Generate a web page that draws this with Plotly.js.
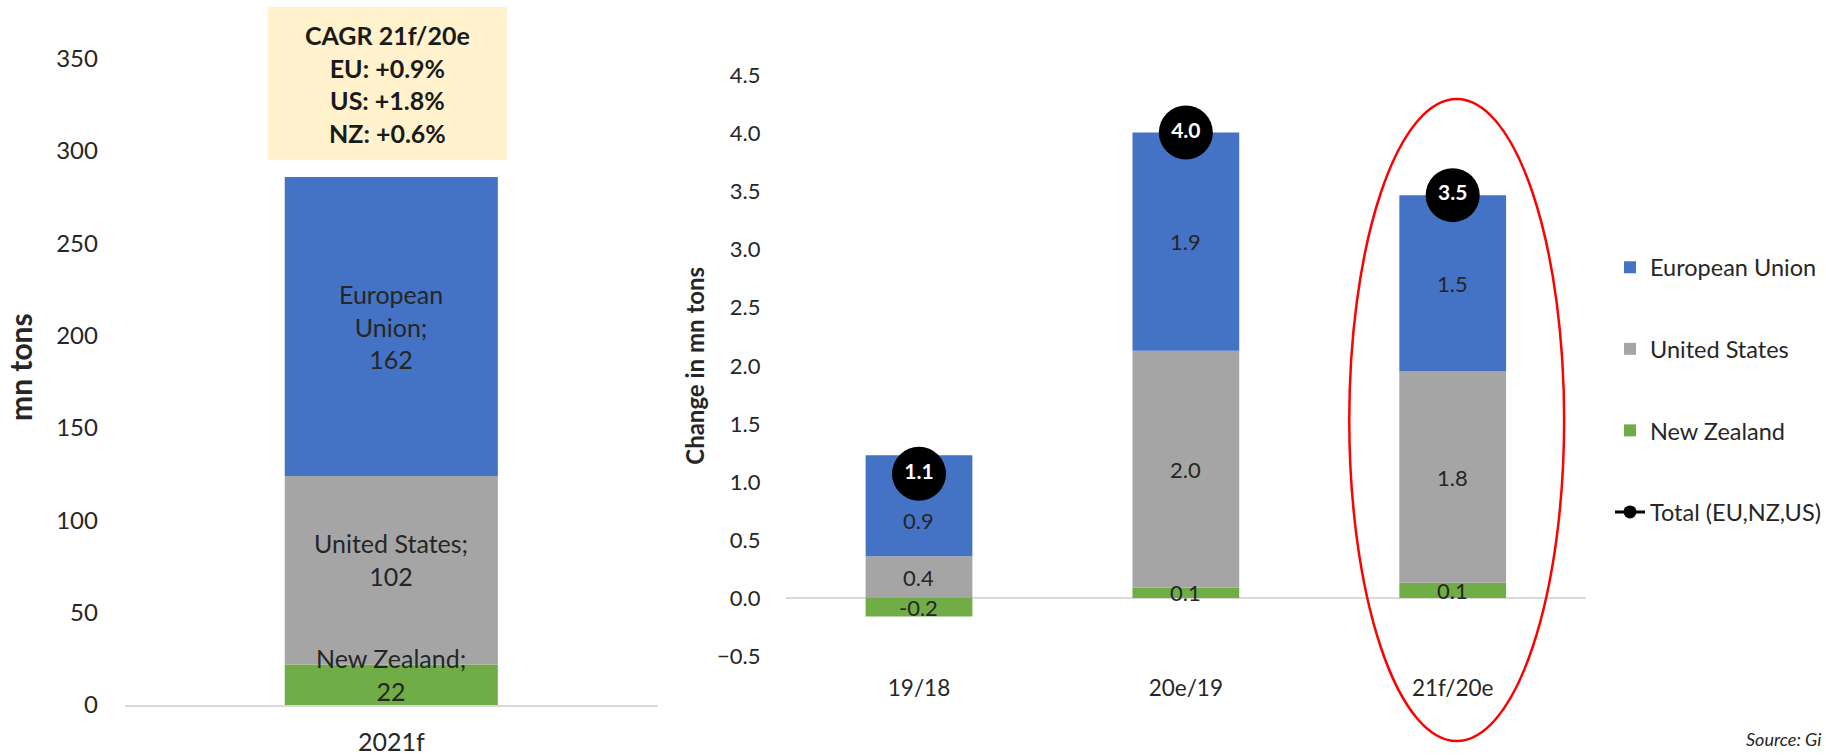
<!DOCTYPE html>
<html>
<head>
<meta charset="utf-8">
<script src="https://cdn.plot.ly/plotly-3.0.1.min.js"></script>
<style>html,body{margin:0;padding:0;background:#fff;}#chart{width:1826px;height:755px;}</style>
</head>
<body>
<div id="chart"></div>
<script>
// ---- Data ----
var levelCategory = ['2021f'];
var levelEU = [162];
var levelUS = [102];
var levelNZ = [22];

var periods = ['19/18', '20e/19', '21f/20e'];
var changeEU = [0.87, 1.88, 1.52];
var changeUS = [0.36, 2.04, 1.82];
var changeNZ = [-0.16, 0.09, 0.13];
var changeTotal = [1.07, 4.01, 3.47];

var cagrRegions = ['EU', 'US', 'NZ'];
var cagrValues = [0.9, 1.8, 0.6];

var seriesNames = ['European Union', 'United States', 'New Zealand'];
var levelLabelNames = ['European<br>Union', 'United States', 'New Zealand'];
var totalName = 'Total (EU,NZ,US)';

// ---- Styles ----
var FONT = 'Lato, "Open Sans", sans-serif';
var C_EU = '#4472C4', C_US = '#A5A5A5', C_NZ = '#70AD47';
var TXT = '#262626';
var W = 1826, H = 755;
function px(x) { return x / W; }
function py(y) { return 1 - y / H; }
// label pixel nudges (style only)
var levelLabelShift = [0, 11, 10];          // EU, US, NZ
var changeLabelShift = [[-15, 0, 0], [0, 0, 0], [0, 0, 0]]; // EU, US, NZ per period

function bar(name, xs, vals, color, xa, ya, showleg, rank) {
  return {
    type: 'bar', x: xs, y: vals, name: name, xaxis: xa, yaxis: ya,
    marker: {color: color}, showlegend: showleg, legendgroup: name, legendrank: rank,
    hoverinfo: 'y+name'
  };
}

var traces = [
  bar(seriesNames[2], levelCategory, levelNZ, C_NZ, 'x', 'y', false, 3),
  bar(seriesNames[1], levelCategory, levelUS, C_US, 'x', 'y', false, 2),
  bar(seriesNames[0], levelCategory, levelEU, C_EU, 'x', 'y', false, 1),
  bar(seriesNames[2], periods, changeNZ, C_NZ, 'x2', 'y2', true, 3),
  bar(seriesNames[1], periods, changeUS, C_US, 'x2', 'y2', true, 2),
  bar(seriesNames[0], periods, changeEU, C_EU, 'x2', 'y2', true, 1),
  {
    type: 'scatter', mode: 'markers+text', x: periods, y: changeTotal, name: totalName,
    xaxis: 'x2', yaxis: 'y2', showlegend: false, legendgroup: 'total',
    marker: {size: 54, color: '#000000'},
    text: changeTotal.map(function (v) { return v.toFixed(1); }),
    textposition: 'middle center',
    textfont: {family: FONT, size: 21, color: '#ffffff', weight: 'bold'}
  },
  {
    type: 'scatter', mode: 'lines+markers', x: [null], y: [null], name: totalName,
    xaxis: 'x2', yaxis: 'y2', showlegend: true, legendgroup: 'total', legendrank: 4,
    marker: {size: 13, color: '#000000'}, line: {color: '#000000', width: 3}
  }
];

// ---- Segment labels (relative stacking midpoints, from data) ----
var annotations = [];
function stackMids(seriesList) { // seriesList in stacking order
  var n = seriesList[0].length, mids = seriesList.map(function () { return []; });
  for (var i = 0; i < n; i++) {
    var pos = 0, neg = 0;
    seriesList.forEach(function (s, k) {
      var v = s[i];
      if (v >= 0) { mids[k][i] = pos + v / 2; pos += v; }
      else { mids[k][i] = neg + v / 2; neg += v; }
    });
  }
  return mids;
}
// stacking order NZ, US, EU
var levelSeries = [levelNZ, levelUS, levelEU];
var levelMids = stackMids(levelSeries);
[2, 1, 0].forEach(function (k, idx) { // k index in stacking list; idx: EU=0,US=1,NZ=2
  var s = levelSeries[k];
  levelCategory.forEach(function (c, i) {
    annotations.push({
      xref: 'x', yref: 'y', x: c, y: levelMids[k][i], yshift: levelLabelShift[idx],
      text: levelLabelNames[idx] + ';<br>' + s[i], showarrow: false, align: 'center',
      xanchor: 'center', yanchor: 'middle',
      font: {family: FONT, size: 25, color: TXT}
    });
  });
});
var changeSeries = [changeNZ, changeUS, changeEU];
var changeMids = stackMids(changeSeries);
[2, 1, 0].forEach(function (k, idx) {
  var s = changeSeries[k];
  periods.forEach(function (c, i) {
    annotations.push({
      xref: 'x2', yref: 'y2', x: c, y: changeMids[k][i], yshift: changeLabelShift[idx][i],
      text: s[i].toFixed(1), showarrow: false, xanchor: 'center', yanchor: 'middle',
      font: {family: FONT, size: 22, color: TXT}
    });
  });
});

var cagrText = ['<b>CAGR 21f/20e</b>'].concat(cagrRegions.map(function (r, i) {
  return '<b>' + r + ': +' + cagrValues[i].toFixed(1) + '%</b>';
})).join('<br>');

annotations.push(
  {xref: 'paper', yref: 'paper', x: px(387.5), y: py(84), xanchor: 'center', yanchor: 'middle',
   text: cagrText, showarrow: false, align: 'center',
   font: {family: FONT, size: 25, color: '#1a1a1a'}},
  {xref: 'paper', yref: 'paper', x: px(20), y: py(367), xanchor: 'center', yanchor: 'middle',
   text: '<b>mn tons</b>', textangle: -90, showarrow: false,
   font: {family: FONT, size: 30, color: TXT}},
  {xref: 'paper', yref: 'paper', x: px(1745), y: py(739), xanchor: 'left', yanchor: 'middle',
   text: '<i>Source: Gi</i>', showarrow: false, font: {family: FONT, size: 18, color: TXT}}
);

var layout = {
  width: W, height: H,
  margin: {l: 0, r: 0, t: 0, b: 0},
  paper_bgcolor: '#ffffff', plot_bgcolor: '#ffffff',
  font: {family: FONT, color: TXT},
  barmode: 'relative', bargap: 0.6,
  showlegend: true,
  legend: {
    x: px(1611), xanchor: 'left', y: py(245.5), yanchor: 'top',
    font: {family: FONT, size: 23.5, color: TXT},
    traceorder: 'grouped', tracegroupgap: 48, bgcolor: 'rgba(0,0,0,0)'
  },
  xaxis: {
    domain: [px(125), px(658)], anchor: 'y', type: 'category',
    showline: true, linecolor: '#D9D9D9', linewidth: 1.5, ticks: '',
    tickfont: {family: FONT, size: 25, color: TXT}, ticklabelstandoff: 14,
    showgrid: false, zeroline: false, fixedrange: true
  },
  yaxis: {
    domain: [py(705), py(58.7)], anchor: 'x', range: [0, 350], dtick: 50,
    showgrid: false, zeroline: false, showline: false, ticks: '',
    tickfont: {family: FONT, size: 24, color: TXT}, ticklabelstandoff: 26,
    fixedrange: true
  },
  xaxis2: {
    domain: [px(786), px(1587)], anchor: 'y2', type: 'category',
    showline: false, ticks: '',
    tickfont: {family: FONT, size: 22.5, color: TXT}, ticklabelstandoff: 16,
    showgrid: false, zeroline: false, fixedrange: true
  },
  yaxis2: {
    domain: [py(656), py(75.6)], anchor: 'x2', range: [-0.5, 4.5], dtick: 0.5,
    tickformat: '.1f', showgrid: false, showline: false, ticks: '',
    zeroline: true, zerolinecolor: '#D9D9D9', zerolinewidth: 1.5,
    tickfont: {family: FONT, size: 22, color: TXT}, ticklabelstandoff: 24,
    title: {text: 'Change in mn tons', font: {family: FONT, size: 24, color: TXT, weight: 'bold'}, standoff: 5},
    fixedrange: true
  },
  shapes: [
    {type: 'rect', xref: 'paper', yref: 'paper', x0: px(268), x1: px(507), y0: py(160), y1: py(7),
     fillcolor: '#FFF2CC', line: {width: 0}, layer: 'below'},
    {type: 'circle', xref: 'paper', yref: 'paper', x0: px(1350), x1: px(1565), y0: py(741), y1: py(99),
     line: {color: '#FF0000', width: 2.5}, fillcolor: 'rgba(0,0,0,0)', layer: 'above'}
  ],
  annotations: annotations
};

Plotly.newPlot('chart', traces, layout, {displayModeBar: false, staticPlot: true});
</script>
</body>
</html>
